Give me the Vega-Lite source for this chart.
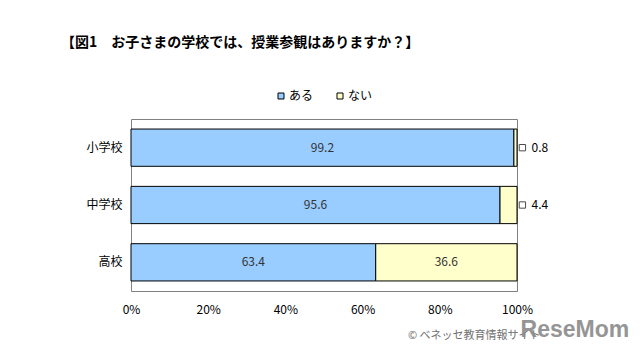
{
  "$schema": "https://vega.github.io/schema/vega-lite/v6.json",
  "width": 386,
  "height": 172,
  "autosize": "none",
  "padding": {"left": 131, "top": 119, "right": 123, "bottom": 59},
  "background": "white",
  "config": {
    "font": "Noto Sans CJK JP",
    "view": {"stroke": "#808080", "strokeWidth": 1}
  },
  "title": {
    "text": "【図1　お子さまの学校では、授業参観はありますか？】",
    "anchor": "start",
    "frame": "group",
    "fontSize": 14,
    "fontWeight": "bold",
    "color": "#000000",
    "font": "Noto Sans CJK JP",
    "dx": -70,
    "offset": 40
  },
  "data": {
    "values": [
      {"school": "小学校", "answer": "ある", "value": 99.2, "ord": 1},
      {"school": "小学校", "answer": "ない", "value": 0.8, "ord": 2},
      {"school": "中学校", "answer": "ある", "value": 95.6, "ord": 1},
      {"school": "中学校", "answer": "ない", "value": 4.4, "ord": 2},
      {"school": "高校", "answer": "ある", "value": 63.4, "ord": 1},
      {"school": "高校", "answer": "ない", "value": 36.6, "ord": 2}
    ]
  },
  "encoding": {
    "y": {
      "field": "school",
      "type": "nominal",
      "sort": ["小学校", "中学校", "高校"],
      "scale": {"paddingInner": 0.35, "paddingOuter": 0.175},
      "axis": {
        "title": null,
        "domain": false,
        "ticks": false,
        "labelPadding": 9,
        "labelFontSize": 12,
        "labelColor": "#000000",
        "labelFont": "Noto Sans CJK JP"
      }
    }
  },
  "layer": [
    {
      "mark": {"type": "bar", "stroke": "#000000", "strokeWidth": 1},
      "encoding": {
        "x": {
          "field": "value",
          "type": "quantitative",
          "stack": "zero",
          "scale": {"domain": [0, 100], "nice": false},
          "axis": {
            "title": "© ベネッセ教育情報サイト",
            "titleFontSize": 11,
            "titleFontWeight": "normal",
            "titleColor": "#707070",
            "titleAnchor": "end",
            "titleAlign": "right",
            "titleX": 409,
            "titleY": 38,
            "titleFont": "Noto Sans CJK JP",
            "domain": false,
            "ticks": false,
            "grid": false,
            "values": [0, 20, 40, 60, 80, 100],
            "labelExpr": "datum.value + '%'",
            "labelFlush": false,
            "labelFontSize": 12,
            "labelColor": "#000000",
            "labelPadding": 13,
            "labelFont": "Noto Sans CJK JP"
          }
        },
        "color": {
          "field": "answer",
          "type": "nominal",
          "sort": ["ある", "ない"],
          "scale": {"domain": ["ある", "ない"], "range": ["#99CCFF", "#FFFFCC"]},
          "legend": {
            "title": null,
            "orient": "none",
            "direction": "horizontal",
            "legendX": 144,
            "legendY": -29,
            "symbolType": "square",
            "symbolSize": 36,
            "symbolStrokeColor": "#000000",
            "symbolStrokeWidth": 1,
            "labelFontSize": 12,
            "labelOffset": 2,
            "columnPadding": 20,
            "labelFont": "Noto Sans CJK JP",
            "labelColor": "#000000"
          }
        },
        "order": {"field": "ord", "type": "quantitative"}
      }
    },
    {
      "transform": [{"filter": "datum.value >= 10"}],
      "mark": {"type": "text", "fontSize": 12, "color": "#333333", "font": "Noto Sans CJK JP"},
      "encoding": {
        "x": {"field": "value", "type": "quantitative", "stack": "zero", "bandPosition": 0.5},
        "text": {"field": "value", "type": "quantitative", "format": ".1f"},
        "order": {"field": "ord", "type": "quantitative"}
      }
    },
    {
      "transform": [{"filter": "datum.value < 10"}],
      "mark": {"type": "point", "shape": "square", "size": 40, "filled": false, "stroke": "#000000", "strokeWidth": 1, "clip": false},
      "encoding": {
        "x": {"datum": 101.4, "type": "quantitative"}
      }
    },
    {
      "transform": [{"filter": "datum.value < 10"}],
      "mark": {"type": "text", "fontSize": 12, "align": "left", "color": "#000000", "dx": 6, "font": "Noto Sans CJK JP"},
      "encoding": {
        "x": {"datum": 102.2, "type": "quantitative"},
        "text": {"field": "value", "type": "quantitative", "format": ".1f"}
      }
    },
    {
      "transform": [{"filter": "datum.school == '高校' && datum.answer == 'ある'"}],
      "mark": {"type": "text", "fontSize": 23, "fontWeight": "bold", "color": "#8a8a8a", "dy": 68, "font": "Liberation Sans Narrow, Liberation Sans", "opacity": 0.9},
      "encoding": {
        "x": {"datum": 115, "type": "quantitative"},
        "text": {"value": "ReseMom"}
      }
    }
  ]
}
